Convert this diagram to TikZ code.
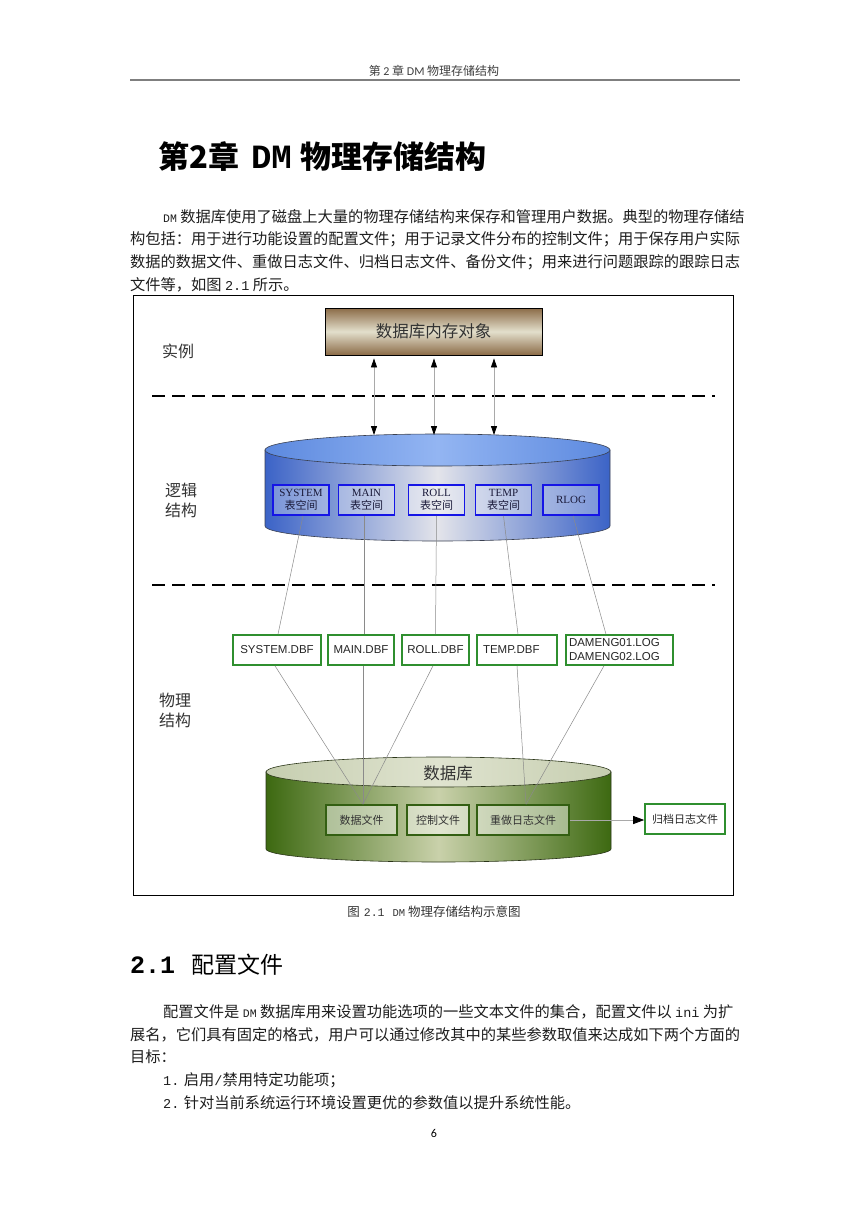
\documentclass[tikz,border=0pt]{standalone}
\usepackage{fontspec}
\setmainfont{Noto Sans CJK SC}
\newfontfamily\monof{Liberation Mono}
\newfontfamily\tnrf{Liberation Serif}
\newfontfamily\arialf{Liberation Sans}
\newfontfamily\carlf{Carlito}
\usetikzlibrary{arrows.meta,calc}
\newcommand\bodysize{\fontsize{15.25}{18}\selectfont}
\newcommand\dmfont{\monof\fontsize{11.5}{12}\selectfont}
\newcommand\inifont{\monof\fontsize{13.5}{16}\selectfont}
\definecolor{hdrtext}{HTML}{404040}
\definecolor{hdrline}{HTML}{7F7F7F}
\definecolor{bodytxt}{HTML}{1E1E1E}
\definecolor{brownedge}{HTML}{8B6B47}
\definecolor{brownmid}{HTML}{E3DFCC}
\definecolor{cylblue}{HTML}{3B63C7}
\definecolor{cylmid}{HTML}{E3E4EA}
\definecolor{topblue}{HTML}{5C89DF}
\definecolor{topbluemid}{HTML}{93B5F2}
\definecolor{cylline}{HTML}{3A4050}
\definecolor{tsblue}{HTML}{1515E6}
\definecolor{tstext}{HTML}{1A1A3A}
\definecolor{dbfgreen}{HTML}{2F8F2F}
\definecolor{greenedge}{HTML}{3D6911}
\definecolor{greenmid}{HTML}{C9D1AA}
\definecolor{greentop}{HTML}{C6CEB0}
\definecolor{greentopmid}{HTML}{DFE3CF}
\definecolor{greenline}{HTML}{2A3518}
\definecolor{inborder}{HTML}{335F12}
\definecolor{arrgray}{HTML}{A9A9A9}
\definecolor{conngray}{HTML}{8A8A8A}
\begin{document}
\begin{tikzpicture}[x=1pt,y=-1pt,
  txt/.style={anchor=west,inner sep=0pt,font=\bodysize,text=bodytxt},
  lbl/.style={inner sep=0pt,font=\fontsize{16}{20}\selectfont,text=black!80,align=center},
  memobj/.style={draw=black,line width=0.8pt,top color=brownedge,bottom color=brownedge,middle color=brownmid,
    minimum width=217pt,minimum height=47pt,inner sep=0pt,font=\fontsize{16.5}{19}\selectfont,text=black!80},
  sepline/.style={line width=2.6pt,dash pattern=on 13pt off 7pt},
  dblarr/.style={draw=arrgray,line width=0.8pt,
    {Triangle[length=9pt,width=6pt,color=black]}-{Triangle[length=9pt,width=6pt,color=black]},shorten <=3pt},
  tsbox/.style={draw=tsblue,line width=1.6pt,fill=white,fill opacity=0.3,text opacity=1,
    minimum width=56pt,minimum height=30pt,inner sep=0pt,align=center,
    font=\fontsize{11}{13}\selectfont,text=tstext},
  dbf/.style={draw=dbfgreen,line width=1.6pt,fill=white,minimum height=30pt,inner sep=0pt,
    font=\arialf\fontsize{11.5}{14}\selectfont,text=black!85},
  inbox/.style={draw=inborder,line width=1.6pt,fill=white,fill opacity=0.45,text opacity=1,
    minimum height=30pt,inner sep=0pt,font=\fontsize{11}{13}\selectfont,text=black!80},
  conn/.style={draw=conngray,line width=0.5pt}]
\useasboundingbox (0,0) rectangle (868,1227);
\fill[white] (0,0) rectangle (868,1227);

% header
\node[inner sep=0pt,text=hdrtext] (hdr) at (434,71) {\fontsize{12}{14}\selectfont 第 {\carlf 2} 章 {\carlf DM} 物理存储结构};
\draw[line width=2.5pt,hdrline] (130,80) -- (740,80);

% title
\node[anchor=west,inner sep=0pt] (title) at (158,157) {\fontsize{31}{36}\selectfont\bfseries 第2章\hspace{12pt}{\monof\bfseries\fontsize{34}{36}\selectfont DM}\hspace{9pt}物理存储结构};

% first paragraph
\node[txt] (p1a) at (163,217) {{\dmfont DM} 数据库使用了磁盘上大量的物理存储结构来保存和管理用户数据。典型的物理存储结};
\node[txt] (p1b) at (130,239.5) {构包括：用于进行功能设置的配置文件；用于记录文件分布的控制文件；用于保存用户实际};
\node[txt] (p1c) at (130,262) {数据的数据文件、重做日志文件、归档日志文件、备份文件；用来进行问题跟踪的跟踪日志};
\node[txt] (p1d) at (130,284.5) {文件等，如图 {\inifont 2.1} 所示。};

% figure frame
\draw[line width=1pt] (133,295) rectangle (733,895);

% layer labels
\node[lbl] (lshili) at (178,351) {实例};
\node[lbl] (lluoji) at (181,500) {逻辑\\结构};
\node[lbl] (lwuli) at (175,710) {物理\\结构};

% memory object
\node[memobj] (mem) at (433.5,331.5) {数据库内存对象};

% separators
\draw[sepline] (152,396) -- (715,396);
\draw[sepline] (152,585) -- (715,585);

% blue cylinder
\path[draw=cylline,line width=0.6pt,left color=cylblue,right color=cylblue,middle color=cylmid]
  (265,450) -- (265,526) arc[start angle=180,end angle=360,x radius=172.5pt,y radius=15pt] -- (610,450) -- cycle;
\path[draw=cylline,line width=0.6pt,left color=topblue,right color=topblue,middle color=topbluemid]
  (437.5,450) ellipse[x radius=172.5pt,y radius=16pt];

\coordinate (bt1) at (374,435);
\coordinate (bt2) at (434,435);
\coordinate (bt3) at (494,435);
\draw[dblarr] (mem.south -| bt1) -- (bt1);
\draw[dblarr] (mem.south -| bt2) -- (bt2);
\draw[dblarr] (mem.south -| bt3) -- (bt3);

% tablespaces
\node[tsbox] (tsys) at (301,500) {{\tnrf SYSTEM}\\表空间};
\node[tsbox] (tmain) at (366.5,500) {{\tnrf MAIN}\\表空间};
\node[tsbox] (troll) at (436.5,500) {{\tnrf ROLL}\\表空间};
\node[tsbox] (ttemp) at (503.5,500) {{\tnrf TEMP}\\表空间};
\node[tsbox] (trlog) at (571,500) {{\tnrf RLOG}};

% data files
\node[dbf,minimum width=88pt] (dsys) at (277,650) {SYSTEM.DBF};
\node[dbf,minimum width=66pt] (dmain) at (361,650) {MAIN.DBF};
\node[dbf,minimum width=67pt] (droll) at (435.5,650) {ROLL.DBF};
\node[dbf,minimum width=80pt,text width=68pt,align=left] (dtemp) at (517,650) {TEMP.DBF};
\node[dbf,minimum width=107pt,text width=101pt,align=left] (ddam) at (619.5,650) {DAMENG01.LOG\\DAMENG02.LOG};

% green cylinder
\path[draw=greenline,line width=0.6pt,left color=greenedge,right color=greenedge,middle color=greenmid]
  (266,772) -- (266,849) arc[start angle=180,end angle=360,x radius=172.5pt,y radius=13pt] -- (611,772) -- cycle;
\path[draw=greenline,line width=0.6pt,left color=greentop,right color=greentop,middle color=greentopmid]
  (438.5,772) ellipse[x radius=172.5pt,y radius=15pt];
\node[inner sep=0pt,font=\fontsize{16.5}{19}\selectfont,text=black!80] (dbl) at (448,773) {数据库};

\node[inbox,minimum width=71pt] (idata) at (361.5,820) {数据文件};
\node[inbox,minimum width=62pt] (ictrl) at (438,820) {控制文件};
\node[inbox,minimum width=92pt] (iredo) at (523,820) {重做日志文件};
\node[dbf,minimum width=80pt,font=\fontsize{11}{13}\selectfont] (iarch) at (685,819) {归档日志文件};
\draw[draw=arrgray,line width=0.8pt,-{Triangle[length=11pt,width=8pt,color=black]}] (iredo.east) -- (iarch.west |- iredo.east);

% connectors tablespace -> files
\draw[conn] ($(tsys.south)+(2,0)$) -- ($(dsys.north)+(1,0)$);
\draw[conn] ($(tmain.south)+(-2.5,0)$) -- ($(dmain.north)+(3,0)$);
\draw[conn] (troll.south) -- (droll.north);
\draw[conn] (ttemp.south) -- ($(dtemp.north)+(1,0)$);
\draw[conn] ($(trlog.south)+(2,0)$) -- ($(ddam.north)+(-13.5,0)$);

% connectors files -> database files
\draw[conn] ($(dsys.south)+(-2,0)$) -- ($(idata.north)+(1.5,0)$);
\draw[conn] ($(dmain.south)+(2,0)$) -- ($(idata.north)+(1.5,0)$);
\draw[conn] ($(droll.south)+(-2.5,0)$) -- ($(idata.north)+(1.5,0)$);
\draw[conn] (dtemp.south) -- ($(iredo.north)+(3,0)$);
\draw[conn] ($(ddam.south)+(-15.5,0)$) -- ($(iredo.north)+(3,0)$);

% caption
\node[inner sep=0pt,text=black!80] (cap) at (434,912) {\fontsize{12.5}{15}\selectfont 图\hspace{4pt}{\monof\fontsize{11.5}{14}\selectfont 2.1}\hspace{8pt}{\monof\fontsize{10.5}{14}\selectfont DM}\hspace{3pt}物理存储结构示意图};

% section heading
\node[anchor=west,inner sep=0pt] (sec) at (130,965) {{\monof\bfseries\fontsize{25}{28}\selectfont 2.1}\hspace{16pt}{\fontsize{23}{28}\selectfont 配置文件}};

% second paragraph
\node[txt] (p2a) at (163,1012) {配置文件是 {\dmfont DM} 数据库用来设置功能选项的一些文本文件的集合，配置文件以 {\inifont ini} 为扩};
\node[txt] (p2b) at (130,1035) {展名，它们具有固定的格式，用户可以通过修改其中的某些参数取值来达成如下两个方面的};
\node[txt] (p2c) at (130,1057) {目标：};
\node[txt] (p2d) at (163,1080) {{\inifont 1.} 启用{\inifont /}禁用特定功能项；};
\node[txt] (p2e) at (163,1103) {{\inifont 2.} 针对当前系统运行环境设置更优的参数值以提升系统性能。};

\node[inner sep=0pt] (pg) at (434,1133) {\carlf\fontsize{12}{14}\selectfont 6};
\end{tikzpicture}
\end{document}
